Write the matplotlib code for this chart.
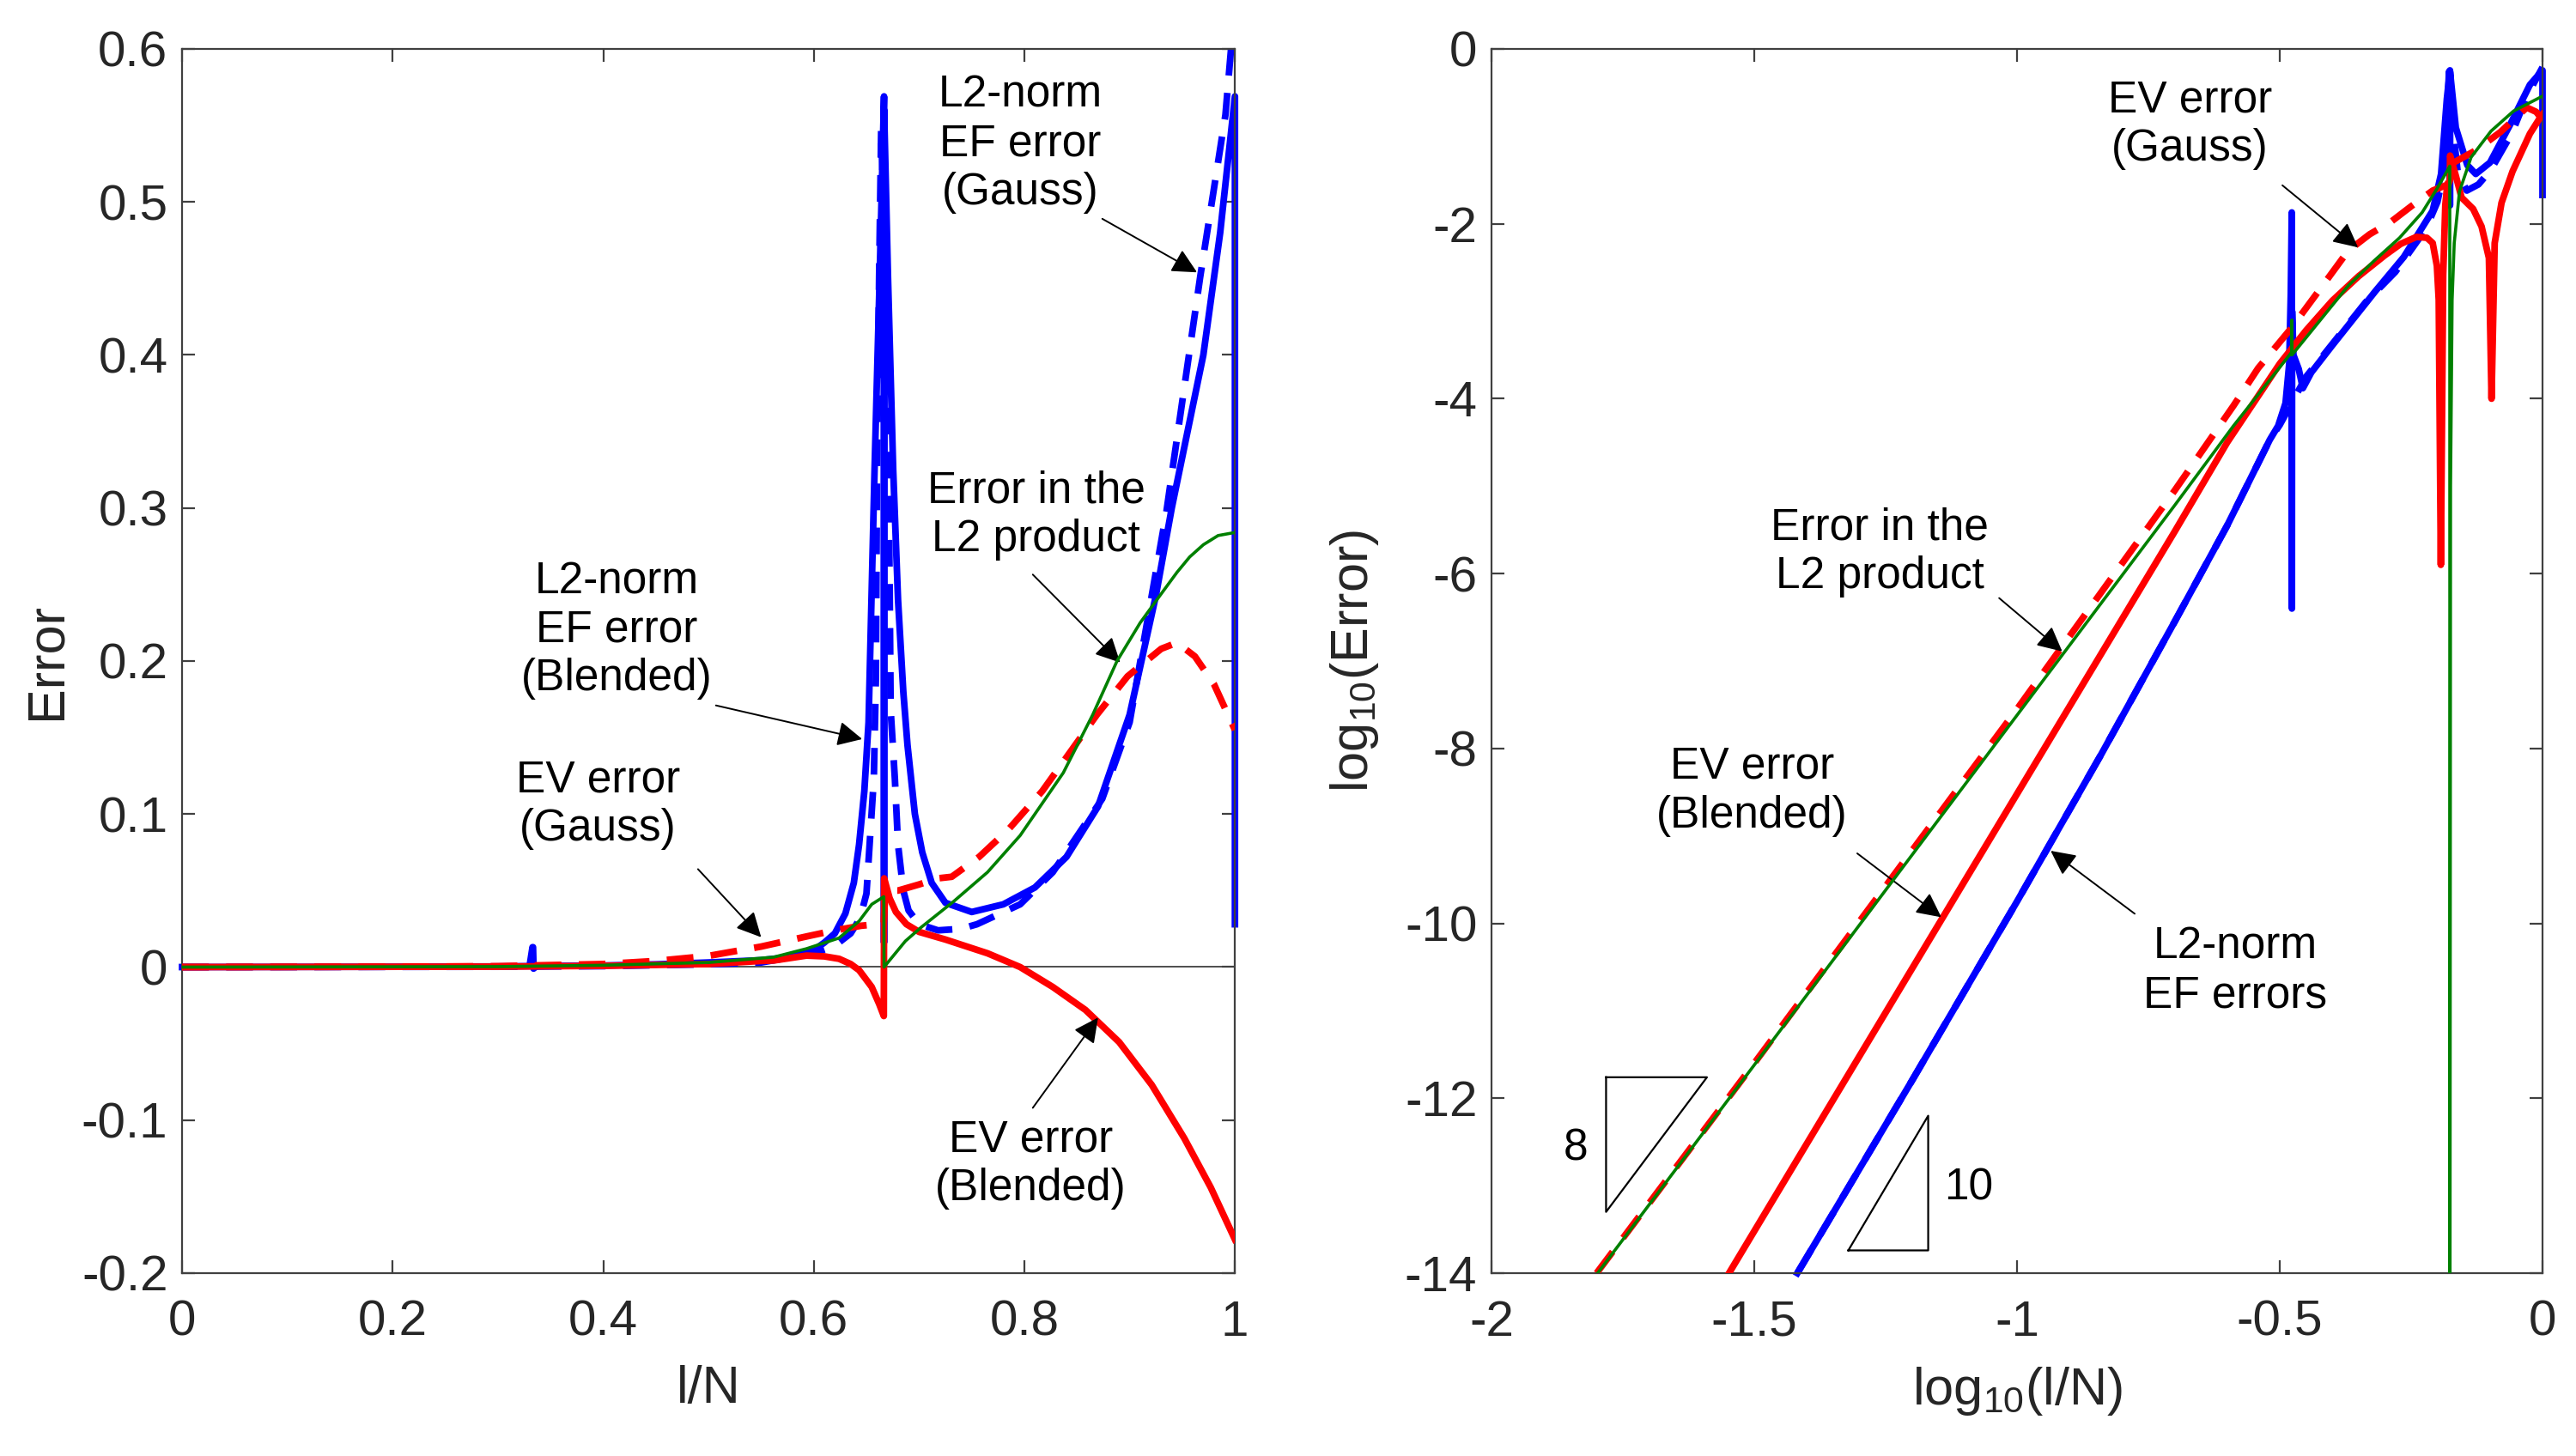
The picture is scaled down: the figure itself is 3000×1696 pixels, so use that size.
import matplotlib
matplotlib.use('Agg')
import matplotlib.pyplot as plt

plt.rcParams['font.family'] = ['Liberation Sans', 'DejaVu Sans']
plt.rcParams['mathtext.default'] = 'regular'
plt.rcParams['axes.unicode_minus'] = False

# ---- left panel: error vs l/N ----
lin_x_ef_blend = [0, 0.1, 0.2, 0.3, 0.33, 0.3328, 0.3333, 0.3338, 0.337, 0.4, 0.45, 0.5, 0.55, 0.58,
                  0.60, 0.61, 0.62, 0.63, 0.638, 0.643, 0.648, 0.652, 0.6577, 0.6625, 0.6667, 0.6667,
                  0.6668, 0.6705, 0.6754, 0.68, 0.685, 0.689, 0.696, 0.703, 0.712, 0.725, 0.75, 0.78,
                  0.81, 0.84, 0.87, 0.90, 0.925, 0.94, 0.97, 0.986, 1.0, 1.0]
lin_y_ef_blend = [0, 0.0001, 0.0002, 0.0004, 0.0006, 0.013, 0.013, -0.001, 0.0007, 0.001, 0.0018, 0.003,
                  0.0045, 0.0068, 0.011, 0.016, 0.022, 0.035, 0.055, 0.08, 0.115, 0.16, 0.325, 0.45,
                  0.569, 0.016, 0.56, 0.45, 0.325, 0.24, 0.18, 0.145, 0.10, 0.075, 0.055, 0.042, 0.036,
                  0.041, 0.052, 0.072, 0.105, 0.165, 0.243, 0.30, 0.40, 0.48, 0.569, 0.028]

lin_x_ef_gauss = [0, 0.3, 0.4, 0.5, 0.55, 0.6, 0.62, 0.635, 0.644, 0.65, 0.653, 0.657, 0.659, 0.660,
                  0.662, 0.664, 0.668, 0.671, 0.672, 0.673, 0.677, 0.680, 0.685, 0.69, 0.70, 0.718,
                  0.74, 0.755, 0.796, 0.827, 0.874, 0.90, 0.935, 0.967, 0.991, 1.0]
lin_y_ef_gauss = [0, 0.0002, 0.0006, 0.0018, 0.003, 0.009, 0.014, 0.022, 0.032, 0.048, 0.08, 0.123,
                  0.19, 0.32, 0.45, 0.548, 0.45, 0.318, 0.254, 0.168, 0.123, 0.080, 0.05, 0.037,
                  0.028, 0.024, 0.025, 0.028, 0.041, 0.062, 0.11, 0.16, 0.298, 0.451, 0.557, 0.63]

lin_x_ev_blend = [0, 0.3, 0.4, 0.5, 0.55, 0.562, 0.593, 0.61, 0.624, 0.635, 0.643, 0.655, 0.662, 0.6665,
                  0.6668, 0.672, 0.678, 0.688, 0.70, 0.725, 0.765, 0.796, 0.827, 0.858, 0.89, 0.921,
                  0.952, 0.977, 1.0]
lin_y_ev_blend = [0, 0.0003, 0.0008, 0.002, 0.004, 0.0043, 0.0075, 0.007, 0.0054, 0.002, -0.002, -0.013,
                  -0.024, -0.032, 0.058, 0.045, 0.036, 0.028, 0.023, 0.018, 0.009, 0.0, -0.013, -0.028,
                  -0.049, -0.077, -0.112, -0.144, -0.178]

lin_x_ev_gauss = [0, 0.2, 0.3, 0.4, 0.45, 0.5, 0.55, 0.593, 0.62, 0.645, 0.66, 0.6665, 0.668, 0.68, 0.70,
                  0.718, 0.731, 0.757, 0.785, 0.817, 0.843, 0.869, 0.898, 0.93, 0.945, 0.962, 0.98, 1.0]
lin_y_ev_gauss = [0, 0.0002, 0.0006, 0.002, 0.004, 0.0073, 0.0134, 0.020, 0.024, 0.027, 0.028, 0.029,
                  0.05, 0.05, 0.054, 0.058, 0.059, 0.072, 0.09, 0.115, 0.14, 0.165, 0.19, 0.208, 0.212,
                  0.203, 0.185, 0.155]

lin_x_l2prod = [0, 0.3, 0.4, 0.5, 0.562, 0.593, 0.624, 0.643, 0.655, 0.6665, 0.6667, 0.687, 0.702, 0.733,
                0.765, 0.796, 0.837, 0.865, 0.888, 0.91, 0.929, 0.945, 0.957, 0.97, 0.984, 1.0]
lin_y_l2prod = [0, 0.0003, 0.0012, 0.003, 0.0065, 0.012, 0.019, 0.030, 0.041, 0.046, 0.0, 0.017, 0.026,
                0.043, 0.062, 0.086, 0.127, 0.165, 0.20, 0.225, 0.243, 0.258, 0.268, 0.276, 0.282, 0.284]

# ---- right panel: log10(error) vs log10(l/N) ----
log_x_ef_blend = [-1.418, -1.2, -1.0, -0.84, -0.7, -0.6, -0.519, -0.503, -0.489, -0.482, -0.479, -0.4771,
                  -0.4769, -0.4765, -0.474, -0.464, -0.456, -0.44, -0.4, -0.318, -0.264, -0.209, -0.193,
                  -0.182, -0.1761, -0.1761, -0.1760, -0.165, -0.143, -0.127, -0.1, -0.062, -0.024, 0.0, 0.0]
log_y_ef_blend = [-14, -11.8, -9.75, -8.07, -6.55, -5.45, -4.47, -4.31, -4.05, -3.6, -2.8, -1.87,
                  -6.4, -3.0, -3.5, -3.66, -3.88, -3.7, -3.39, -2.77, -2.38, -1.85, -1.43,
                  -0.57, -0.245, -1.79, -0.26, -0.9, -1.33, -1.43, -1.3, -0.87, -0.41, -0.245, -1.67]

log_x_ef_gauss = [-1.418, -1.2, -1.0, -0.84, -0.7, -0.6, -0.519, -0.5, -0.45, -0.41, -0.337, -0.28, -0.222,
                  -0.2, -0.191, -0.185, -0.181, -0.178, -0.174, -0.167, -0.161, -0.144, -0.122, -0.099,
                  -0.058, -0.029, 0.0]
log_y_ef_gauss = [-14, -11.8, -9.75, -8.07, -6.55, -5.45, -4.47, -4.3, -3.75, -3.45, -2.9, -2.55, -2.06,
                  -1.75, -1.49, -1.1, -0.72, -0.26, -0.52, -1.1, -1.43, -1.62, -1.55, -1.39,
                  -0.96, -0.53, -0.21]

log_x_ev_blend = [-1.548, -1.2, -0.9, -0.7, -0.6, -0.5, -0.45, -0.4, -0.35, -0.3, -0.27, -0.24, -0.22,
                  -0.209, -0.201, -0.1975, -0.1935, -0.189, -0.185, -0.182, -0.1762, -0.1759, -0.165,
                  -0.154, -0.132, -0.116, -0.102, -0.097, -0.091, -0.078, -0.057, -0.024, -0.005, 0.0]
log_y_ev_blend = [-14, -10.52, -7.52, -5.52, -4.5, -3.6, -3.22, -2.88, -2.6, -2.36, -2.23, -2.15, -2.16,
                  -2.22, -2.48, -2.87, -5.9, -2.58, -1.79, -1.6, -1.5, -1.22, -1.45,
                  -1.70, -1.83, -2.03, -2.39, -4.0, -2.22, -1.76, -1.4, -0.97, -0.79, -0.75]

log_x_ev_gauss = [-1.80, -1.5, -1.0, -0.85, -0.7, -0.588, -0.541, -0.479, -0.42, -0.37, -0.329, -0.289,
                  -0.25, -0.209, -0.18, -0.175, -0.127, -0.08, -0.03, -0.012, 0.0]
log_y_ev_gauss = [-14, -11.6, -7.55, -6.3, -5.05, -4.08, -3.65, -3.2, -2.72, -2.31, -2.12, -1.98,
                  -1.8, -1.62, -1.55, -1.32, -1.16, -0.95, -0.67, -0.72, -0.81]

log_x_l2prod = [-1.798, -1.5, -1.0, -0.7, -0.588, -0.4775, -0.4771, -0.4767, -0.42, -0.37, -0.32, -0.272,
                -0.229, -0.202, -0.18, -0.1765, -0.1762, -0.175, -0.172, -0.168, -0.158, -0.136, -0.098,
                -0.055, 0.0]
log_y_l2prod = [-14, -11.62, -7.62, -5.22, -4.31, -3.47, -3.1, -3.5, -3.08, -2.71, -2.42, -2.16,
                -1.87, -1.61, -1.38, -1.34, -16, -5.0, -2.87, -2.22, -1.63, -1.24, -0.94, -0.71, -0.54]

# slope triangles
tri8_x = [-1.782, -1.59, -1.782, -1.782]
tri8_y = [-11.76, -11.76, -13.30, -11.76]
tri10_x = [-1.321, -1.169, -1.169, -1.321]
tri10_y = [-13.74, -13.74, -12.20, -13.74]

lin_xticks = [0, 0.2, 0.4, 0.6, 0.8, 1]
lin_xticklabels = ['0', '0.2', '0.4', '0.6', '0.8', '1']
lin_yticks = [-0.2, -0.1, 0, 0.1, 0.2, 0.3, 0.4, 0.5, 0.6]
lin_yticklabels = ['-0.2', '-0.1', '0', '0.1', '0.2', '0.3', '0.4', '0.5', '0.6']
log_xticks = [-2, -1.5, -1, -0.5, 0]
log_xticklabels = ['-2', '-1.5', '-1', '-0.5', '0']
log_yticks = [-14, -12, -10, -8, -6, -4, -2, 0]
log_yticklabels = ['-14', '-12', '-10', '-8', '-6', '-4', '-2', '0']

blue = (0, 0, 1)
red = (1, 0, 0)
green = (0, 0.5, 0)
axcol = '#404040'
txtcol = '#262626'

fig = plt.figure(figsize=(15, 8.48), dpi=200)
ax1 = fig.add_axes([0.0707, 0.1256, 0.4087, 0.8408])
ax2 = fig.add_axes([0.579, 0.1256, 0.408, 0.8408])


def style(ax):
    for s in ax.spines.values():
        s.set_color(axcol)
        s.set_linewidth(0.8)
    ax.tick_params(direction='in', top=True, right=True, length=5.5, width=0.8,
                   colors=axcol, labelcolor=txtcol, labelsize=21)
    ax.tick_params(axis='x', pad=11)
    ax.tick_params(axis='y', pad=6)


dash = (4, 2.6)
lw = 2.8

# left
ax1.axhline(0, color='#303030', lw=0.6, zorder=1)
ax1.plot(lin_x_ef_blend, lin_y_ef_blend, color=blue, lw=lw, zorder=2, clip_on=False)
ax1.plot(lin_x_ef_gauss, lin_y_ef_gauss, color=blue, lw=lw, ls=(0, dash), zorder=2)
ax1.plot(lin_x_ev_blend, lin_y_ev_blend, color=red, lw=lw, zorder=3)
ax1.plot(lin_x_ev_gauss, lin_y_ev_gauss, color=red, lw=lw, ls=(0, dash), zorder=3)
ax1.plot(lin_x_l2prod, lin_y_l2prod, color=green, lw=1.3, zorder=4)
ax1.set_xlim(0, 1)
ax1.set_ylim(-0.2, 0.6)
ax1.set_xticks(lin_xticks, lin_xticklabels)
ax1.set_yticks(lin_yticks, lin_yticklabels)
style(ax1)
ax1.set_xlabel('l/N', fontsize=22, color=txtcol)
ax1.set_ylabel('Error', fontsize=22, color=txtcol)
ax1.yaxis.set_label_coords(-0.105, 0.5)
ax1.xaxis.set_label_coords(0.5, -0.075)

arr = dict(arrowstyle='-|>', color='k', lw=0.7, mutation_scale=22, shrinkA=0, shrinkB=0)
fs = 18.5
ax1.text(0.796, 0.538, 'L2-norm\nEF error\n(Gauss)', ha='center', va='center', fontsize=fs)
ax1.annotate('', xy=(0.964, 0.454), xytext=(0.874, 0.489), arrowprops=arr)
ax1.text(0.811, 0.295, 'Error in the\nL2 product', ha='center', va='center', fontsize=fs)
ax1.annotate('', xy=(0.891, 0.199), xytext=(0.808, 0.2565), arrowprops=arr)
ax1.text(0.413, 0.220, 'L2-norm\nEF error\n(Blended)', ha='center', va='center', fontsize=fs)
ax1.annotate('', xy=(0.646, 0.149), xytext=(0.507, 0.171), arrowprops=arr)
ax1.text(0.395, 0.106, 'EV error\n(Gauss)', ha='center', va='center', fontsize=fs)
ax1.annotate('', xy=(0.55, 0.0195), xytext=(0.49, 0.064), arrowprops=arr)
ax1.text(0.806, -0.129, 'EV error\n(Blended)', ha='center', va='center', fontsize=fs)
ax1.annotate('', xy=(0.870, -0.033), xytext=(0.808, -0.092), arrowprops=arr)

# right
ax2.plot(log_x_ef_blend, log_y_ef_blend, color=blue, lw=lw, zorder=2, clip_on=False)
ax2.plot(log_x_ef_gauss, log_y_ef_gauss, color=blue, lw=lw, ls=(0, dash), zorder=2)
ax2.plot(log_x_ev_blend, log_y_ev_blend, color=red, lw=lw, zorder=3)
ax2.plot(log_x_ev_gauss, log_y_ev_gauss, color=red, lw=lw, ls=(0, dash), zorder=3)
ax2.plot(log_x_l2prod, log_y_l2prod, color=green, lw=1.3, zorder=4)
ax2.plot(tri8_x, tri8_y, color='k', lw=0.8)
ax2.plot(tri10_x, tri10_y, color='k', lw=0.8)
ax2.text(-1.84, -12.58, '8', ha='center', va='center', fontsize=fs)
ax2.text(-1.092, -13.03, '10', ha='center', va='center', fontsize=fs)
ax2.set_xlim(-2, 0)
ax2.set_ylim(-14, 0)
ax2.set_xticks(log_xticks, log_xticklabels)
ax2.set_yticks(log_yticks, log_yticklabels)
style(ax2)
ax2.set_xlabel('log$_{10}$(l/N)', fontsize=22, color=txtcol)
ax2.set_ylabel('log$_{10}$(Error)', fontsize=22, color=txtcol)
ax2.yaxis.set_label_coords(-0.105, 0.5)
ax2.xaxis.set_label_coords(0.5, -0.075)

ax2.text(-0.671, -0.87, 'EV error\n(Gauss)', ha='center', va='center', fontsize=fs)
ax2.annotate('', xy=(-0.351, -2.27), xytext=(-0.495, -1.56), arrowprops=arr)
ax2.text(-1.261, -5.76, 'Error in the\nL2 product', ha='center', va='center', fontsize=fs)
ax2.annotate('', xy=(-0.914, -6.89), xytext=(-1.034, -6.28), arrowprops=arr)
ax2.text(-1.504, -8.49, 'EV error\n(Blended)', ha='center', va='center', fontsize=fs)
ax2.annotate('', xy=(-1.144, -9.93), xytext=(-1.304, -9.2), arrowprops=arr)
ax2.text(-0.585, -10.55, 'L2-norm\nEF errors', ha='center', va='center', fontsize=fs)
ax2.annotate('', xy=(-0.936, -9.17), xytext=(-0.776, -9.89), arrowprops=arr)

fig.savefig('out.png', dpi=200)
